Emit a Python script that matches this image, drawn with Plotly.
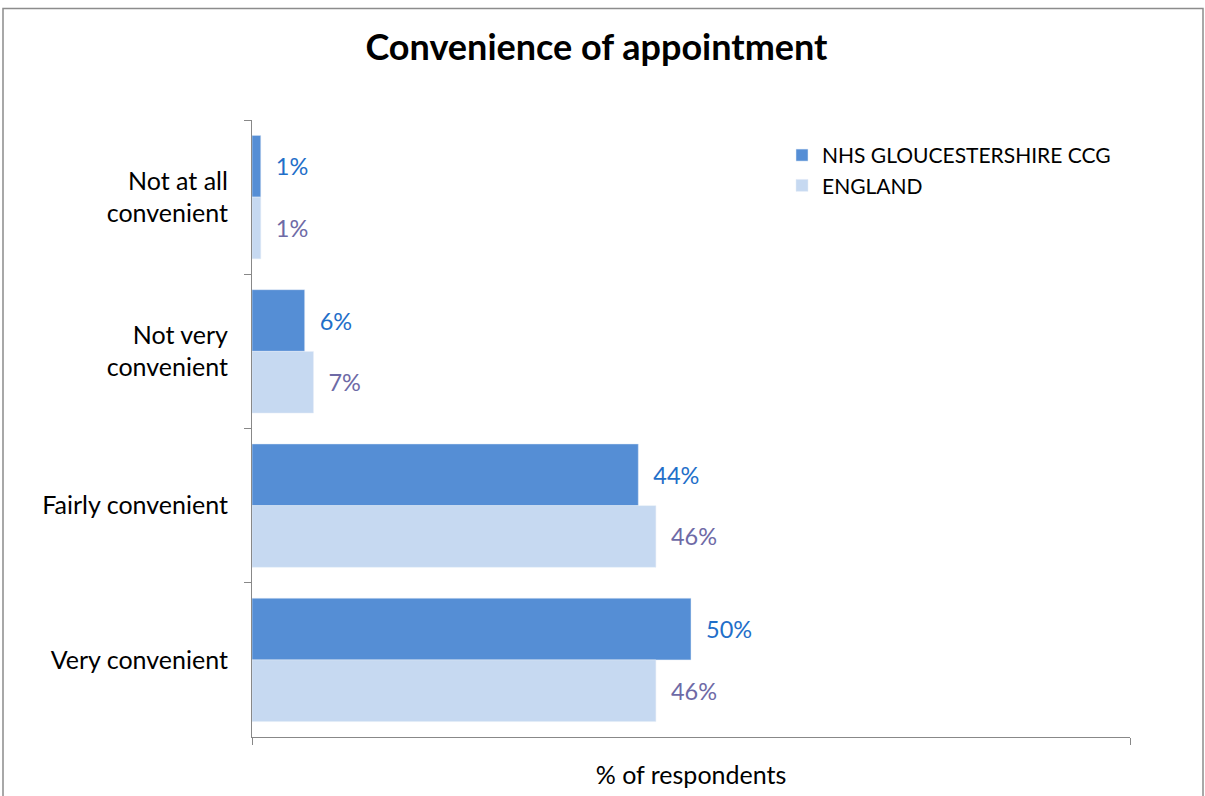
import plotly.graph_objects as go

categories = ["Not at all<br>convenient", "Not very<br>convenient", "Fairly convenient", "Very convenient"]
gloucestershire = [1, 6, 44, 50]
england = [1, 7, 46, 46]
series_names = ["NHS GLOUCESTERSHIRE CCG", "ENGLAND"]

FONT = "Lato"

fig = go.Figure()
fig.add_trace(go.Bar(
    y=categories, x=gloucestershire, orientation="h", name=series_names[0],
    marker=dict(color="#558ED5"),
    texttemplate="  %{x}%", textposition="outside", cliponaxis=False,
    textfont=dict(family=FONT, size=23.5, color="#1F6FC9"),
))
fig.add_trace(go.Bar(
    y=categories, x=england, orientation="h", name=series_names[1],
    marker=dict(color="#C6D9F1"),
    texttemplate="  %{x}%", textposition="outside", cliponaxis=False,
    textfont=dict(family=FONT, size=23.5, color="#6E6AA6"),
))

W, H = 1205, 796
L, R, T, B = 252, 75, 120, 56
pw, ph = W - L - R, H - T - B


def px_to_paper(xp, yp):
    return (xp - L) / pw, (H - B - yp) / ph


x0, y0 = px_to_paper(3, 8)
x1, y1 = px_to_paper(1203, 805)

fig.update_layout(
    width=W, height=H,
    margin=dict(l=L, r=R, t=T, b=B),
    paper_bgcolor="white", plot_bgcolor="white",
    barmode="group", bargap=0.2, bargroupgap=0,
    font=dict(family=FONT, size=24, color="#000000"),
    title=dict(text="<b>Convenience of appointment</b>", x=0.495, xanchor="center",
               y=1 - 47 / H, yanchor="middle",
               font=dict(family=FONT, size=36, color="#000000")),
    legend=dict(x=(782 - L) / pw, y=(H - B - 135) / ph, xanchor="left", yanchor="top",
                font=dict(family=FONT, size=21, color="#000000"),
                traceorder="normal", bgcolor="rgba(0,0,0,0)", itemwidth=30,
                tracegroupgap=9),
    xaxis=dict(range=[0, 100], dtick=100, showticklabels=False, showgrid=False,
               zeroline=False, showline=True, linecolor="#888888", linewidth=1.2,
               ticks="outside", ticklen=7, tickcolor="#888888",
               title=dict(text="% of respondents", standoff=22,
                          font=dict(family=FONT, size=25, color="#000000"))),
    yaxis=dict(autorange="reversed", showgrid=False, showline=True,
               linecolor="#888888", linewidth=1.2, ticks="outside", ticklen=7,
               tickcolor="#888888", tickson="boundaries",
               tickfont=dict(family=FONT, size=25, color="#000000"),
               ticklabelstandoff=18),
    shapes=[dict(type="rect", xref="paper", yref="paper", x0=x0, y0=y1, x1=x1, y1=y0,
                 line=dict(color="#8C8C8C", width=1.5), fillcolor="rgba(0,0,0,0)",
                 layer="below")],
)

fig.write_html("out.html")
